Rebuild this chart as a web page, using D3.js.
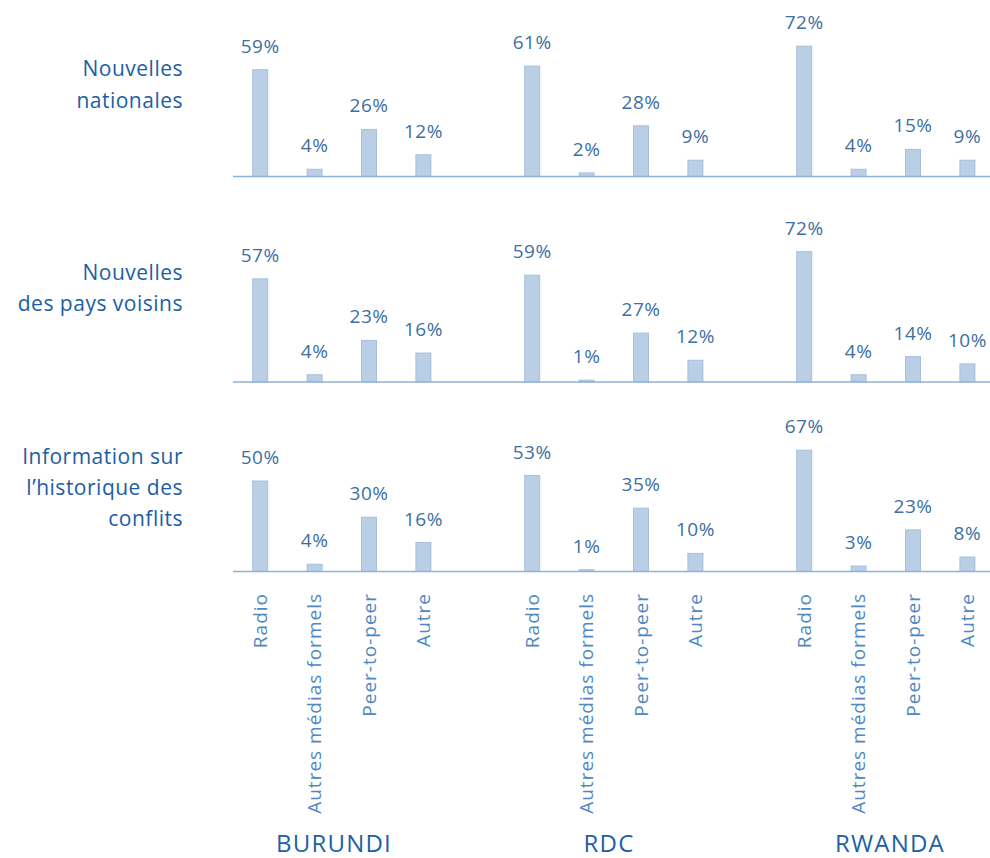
<!DOCTYPE html>
<html><head><meta charset="utf-8">
<script src="https://cdn.jsdelivr.net/npm/d3@7"></script>
<style>body{margin:0;background:#fff}svg{display:block}</style>
</head><body>
<script>
const countries = ["BURUNDI", "RDC", "RWANDA"];
const categories = ["Radio", "Autres médias formels", "Peer-to-peer", "Autre"];
const rows = ["Nouvelles nationales", "Nouvelles des pays voisins", "Information sur l’historique des conflits"];
const rowLabelLines = [["Nouvelles", "nationales"], ["Nouvelles", "des pays voisins"], ["Information sur", "l’historique des", "conflits"]];
// values[row][country] = [Radio, Autres médias formels, Peer-to-peer, Autre]
const nationales = [[59, 4, 26, 12], [61, 2, 28, 9], [72, 4, 15, 9]];
const voisins = [[57, 4, 23, 16], [59, 1, 27, 12], [72, 4, 14, 10]];
const historique = [[50, 4, 30, 16], [53, 1, 35, 10], [67, 3, 23, 8]];
const values = [nationales, voisins, historique];

const W = 990, H = 858;
const svg = d3.select("body").append("svg").attr("width", W).attr("height", H);
const font = "'Open Sans', sans-serif";

const x0 = d3.scaleBand().domain(countries).range([233, 1049]);
const x1 = d3.scaleBand().domain(categories).range([0, 217.6]);
const barW = 15;
const baselines = [176.5, 382, 571.5];
const y = d3.scaleLinear().domain([0, 100]).range([0, 181]);

rows.forEach((r, ri) => {
  const g = svg.append("g");
  const base = baselines[ri];
  countries.forEach((c, ci) => {
    values[ri][ci].forEach((v, ki) => {
      const cx = x0(c) + x1(categories[ki]) + x1.bandwidth() / 2;
      g.append("rect")
        .attr("x", cx - barW / 2).attr("width", barW)
        .attr("y", base - y(v)).attr("height", y(v))
        .attr("fill", "#bacfe5").attr("stroke", "#a6c0dd").attr("stroke-width", 1);
      g.append("text")
        .attr("x", cx).attr("y", base - y(v) - 17)
        .attr("text-anchor", "middle")
        .attr("font-family", font).attr("font-size", 19).attr("letter-spacing", 0.5)
        .attr("fill", "#3d6fa3")
        .text(v + "%");
    });
  });
  g.append("line").attr("x1", 233).attr("x2", 990).attr("y1", base).attr("y2", base)
    .attr("stroke", "#8fb2d6").attr("stroke-width", 1.5);
  const lines = rowLabelLines[ri];
  const top = [[76, 108], [280, 311], [464, 495, 526]][ri];
  lines.forEach((l, li) => {
    svg.append("text").attr("x", 183).attr("y", top[li]).attr("text-anchor", "end")
      .attr("font-family", font).attr("font-size", 21).attr("letter-spacing", 0.5)
      .attr("fill", "#1b5ea5").text(l);
  });
});

countries.forEach((c, ci) => {
  categories.forEach(k => {
    const cx = x0(c) + x1(k) + x1.bandwidth() / 2;
    svg.append("text")
      .attr("transform", `translate(${cx + 6.5},593) rotate(-90)`)
      .attr("text-anchor", "end")
      .attr("font-family", font).attr("font-size", 19).attr("letter-spacing", 1)
      .attr("fill", "#5088c0").text(k);
  });
  svg.append("text").attr("x", x0(c) + [101, 104, 113][ci]).attr("y", 852).attr("text-anchor", "middle")
    .attr("font-family", font).attr("font-size", 24).attr("letter-spacing", 1.2)
    .attr("fill", "#1d5fa7").text(c);
});
</script>
</body></html>
